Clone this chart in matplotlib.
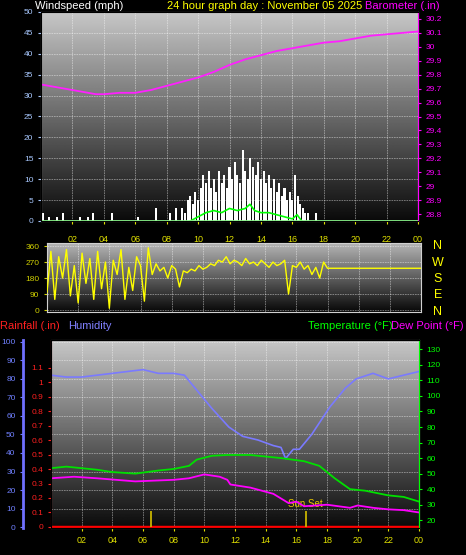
import numpy as np
import matplotlib
matplotlib.use("Agg")
import matplotlib.pyplot as plt

plt.rcParams['font.family'] = ['Liberation Sans', 'DejaVu Sans']

# ---------------- data ----------------
baro_hours = [0, 1, 2, 3, 3.5, 4, 5, 6, 7, 8, 9, 10, 11, 12, 13, 14, 15, 16, 17, 18, 19, 20, 21, 22, 23, 24]
baro_vals = [29.73, 29.71, 29.69, 29.67, 29.66, 29.66, 29.67, 29.67, 29.69, 29.72, 29.75, 29.78, 29.82, 29.87, 29.91, 29.94, 29.97, 29.99, 30.01, 30.03, 30.04, 30.06, 30.08, 30.09, 30.10, 30.11]

gust_hours = [0.1, 0.5, 1.0, 1.4, 2.5, 3.0, 3.3, 4.5, 6.2, 7.3, 8.2, 8.6] + \
             [9 + i / 6 for i in range(48)] + [17.0, 17.5]
gust_vals = [2, 1, 1, 2, 1, 1, 2, 2, 1, 3, 2, 3] + \
            [3, 2, 5, 6, 4, 7, 5, 8, 11, 9, 12, 8, 10, 7, 12, 9, 11, 8,
             13, 10, 14, 11, 9, 17, 12, 10, 15, 13, 11, 14, 10, 12, 9, 11, 8, 10,
             7, 9, 6, 8, 5, 7, 5, 11, 6, 4, 3, 2] + [2, 2]

avg_hours = [9.5, 10, 10.5, 11, 11.5, 12, 12.5, 13, 13.3, 13.6, 14, 14.5, 15, 15.5, 16, 16.3, 16.6]
avg_vals = [0, 1, 2, 2.5, 2, 3, 2.5, 3, 4, 2.5, 2, 2, 1.5, 1, 0.5, 1.5, 0]

dir_vals = [100, 330, 60, 300, 180, 340, 80, 250, 40, 320, 150, 290, 60, 330, 120, 270,
            10, 280, 200, 340, 60, 240, 110, 300,
            250, 50, 350, 200, 260, 220, 240, 180, 250, 230, 130, 220,
            210, 230, 220, 250, 230, 240, 260, 250, 280, 270, 300, 260, 280, 270, 250, 290,
            260, 270, 250, 280, 260, 240, 270, 250, 260, 280, 90, 250, 240, 270, 230, 250,
            200, 240, 180, 270, 235, 235]
dir_hours = [i * 0.25 for i in range(72)] + [18, 24]

hum_hours = [0, 1, 2, 3, 4, 5, 6, 7, 8, 8.7, 9.5, 10.5, 11.6, 12.5, 13.5, 14.5, 15, 15.3, 15.8, 16.2, 17, 18.2, 19.2, 19.9, 21, 22, 23, 24]
hum_vals = [82, 81, 81, 82, 83, 84, 85, 83, 83, 82, 74, 64, 54, 49, 47, 44, 43, 37, 42, 42, 50, 65, 75, 80, 83, 80, 82, 84]

temp_hours = [0, 1, 2, 3, 4, 5.5, 7, 8, 9, 9.5, 10.5, 11.5, 13, 14, 15, 16.5, 17.5, 18.5, 19.5, 20.5, 22, 23, 24]
temp_vals = [53.5, 54.5, 53.5, 52.5, 51, 50, 52, 53, 55, 59, 61.5, 62, 62, 61, 60, 58, 55, 47, 40, 39, 36, 35, 32]

dew_hours = [0, 1.5, 3, 5.5, 8, 9, 10, 11, 11.5, 11.7, 13, 14.5, 15.5, 16, 16.5, 18, 19.5, 20, 21, 22, 23, 24]
dew_vals = [47, 48, 47, 45, 46, 47, 49.5, 48, 46, 43, 41, 37, 31, 32, 29, 30, 28, 29.5, 28, 27, 26.5, 25]

sun_hours = [6.55, 16.6]

xticks = list(range(2, 25, 2))
xticklabels = ["%02d" % (h % 24) for h in xticks]

# ---------------- figure ----------------
W, H = 466, 555
fig = plt.figure(figsize=(W / 100, H / 100), dpi=100, facecolor="black")

def box(x0, y0, x1, y1):
    return [x0 / W, 1 - y1 / H, (x1 - x0) / W, (y1 - y0) / H]

def gradient(ax, top=0.78, bottom=0.04):
    g = np.linspace(bottom, top, 256).reshape(-1, 1)
    ax.imshow(g, aspect="auto", cmap="gray", vmin=0, vmax=1, origin="lower",
              extent=[0, 1, 0, 1], transform=ax.transAxes, zorder=0)

def style(ax):
    ax.set_facecolor("black")
    ax.set_xlim(0, 24)
    ax.set_xticks(xticks)
    ax.set_xticklabels(xticklabels)
    ax.tick_params(axis="x", colors="#e0e000", labelsize=6.5, length=2)
    ax.grid(True, color="white", alpha=0.45, lw=0.6, ls=(0, (2, 1)))
    for s in ax.spines.values():
        s.set_color("#d0d0d0")

fs_title = 8
fs_tick = 6

# ---- Panel 1: wind speed + barometer
ax1 = fig.add_axes(box(41, 12, 418, 221))
gradient(ax1)
style(ax1)
ax1.set_ylim(0, 50)
ax1.set_yticks(range(0, 51, 5))
ax1.tick_params(axis="y", colors="#a8c8ff", labelsize=fs_tick, length=2)
ax1.bar(gust_hours, gust_vals, width=0.13, color="white", zorder=3)
ax1.plot(avg_hours, avg_vals, color="#00ff00", lw=1.2, zorder=4)
ax1.axhline(0, color="#90ff90", lw=2, zorder=5)
ax1b = ax1.twinx()
ax1b.set_ylim(28.75, 30.25)
bt = np.round(np.arange(28.8, 30.21, 0.1), 1)
ax1b.set_yticks(bt)
ax1b.set_yticklabels(["%g" % v for v in bt])
ax1b.tick_params(axis="y", colors="#ff00ff", labelsize=fs_tick, length=2)
ax1b.spines["right"].set_color("#ff00ff")
ax1b.plot(baro_hours, baro_vals, color="#ff20ff", lw=1.3)
ax1.tick_params(axis="x", pad=8)

fig.text(35 / W, 1 - 6 / H, "Windspeed (mph)", color="white", fontsize=fs_title, va="center")
fig.text(265 / W, 1 - 6 / H, "24 hour graph day : November 05 2025", color="#ffff00", fontsize=fs_title, va="center", ha="center")
fig.text(440 / W, 1 - 6 / H, "Barometer (.in)", color="#ff00ff", fontsize=fs_title, va="center", ha="right")

# ---- Panel 2: wind direction
ax2 = fig.add_axes(box(47, 243, 421, 312))
gradient(ax2, top=0.72, bottom=0.03)
style(ax2)
ax2.tick_params(axis="x", labelbottom=False, length=0)
ax2.set_ylim(-11, 377)
ax2.set_yticks([0, 90, 180, 270, 360])
ax2.tick_params(axis="y", colors="#d0d000", labelsize=fs_tick, length=2)
ax2.plot(dir_hours, dir_vals, color="#ffff00", lw=1.0, zorder=3)
for lab, y in zip("NWSEN", [246, 263, 279, 295, 312]):
    fig.text(438 / W, 1 - y / H, lab, color="#ffff00", fontsize=9, ha="center", va="center")

# ---- Panel 3: humidity / rain / temperature / dew
ax3 = fig.add_axes(box(51, 340, 419, 528))
gradient(ax3)
style(ax3)
ax3.set_ylim(-0.5, 101)
ax3.set_yticks(range(0, 101, 10))
ax3.spines["left"].set_position(("outward", 20))
ax3.spines["left"].set_color("#7070ff")
ax3.spines["left"].set_linewidth(2)
ax3.tick_params(axis="y", colors="#7080ff", labelsize=fs_tick, length=2)
ax3.plot(hum_hours, hum_vals, color="#7a7aff", lw=1.2, zorder=3)

ax3r = ax3.twinx()
ax3r.set_ylim(-0.007, 1.29)
ax3r.yaxis.set_ticks_position("left")
ax3r.spines["left"].set_visible(True)
ax3r.spines["left"].set_color("#ff3030")
ax3r.spines["left"].set_linestyle((0, (1, 1)))
ax3r.spines["right"].set_visible(False)
rt = np.round(np.arange(0, 1.11, 0.1), 1)
ax3r.set_yticks(rt)
ax3r.set_yticklabels(["%g" % v for v in rt])
ax3r.tick_params(axis="y", colors="#ff2020", labelsize=fs_tick, length=2)
ax3r.axhline(0, color="#ff0000", lw=2.5)
ax3r.vlines(sun_hours, 0, 0.11, color="#c8b400", lw=1.3)
ax3r.text(sun_hours[1], 0.125, "Sun Set", color="#e8c800", fontsize=7, ha="center", va="bottom")

ax3t = ax3.twinx()
ax3t.set_ylim(15, 136)
ax3t.set_yticks(range(20, 131, 10))
ax3t.tick_params(axis="y", colors="#00ff00", labelsize=fs_tick, length=2)
ax3t.spines["right"].set_color("#00ff00")
ax3t.plot(temp_hours, temp_vals, color="#00e000", lw=1.3)
ax3t.plot(dew_hours, dew_vals, color="#ff00ff", lw=1.3)

fig.text(0 / W, 1 - 326 / H, "Rainfall (.in)", color="#ff2020", fontsize=fs_title, va="center")
fig.text(68 / W, 1 - 326 / H, "Humidity", color="#8080ff", fontsize=fs_title, va="center")
fig.text(393 / W, 1 - 326 / H, "Temperature (°F)", color="#00ff00", fontsize=fs_title, va="center", ha="right")
fig.text(464 / W, 1 - 326 / H, "Dew Point (°F)", color="#ff00ff", fontsize=fs_title, va="center", ha="right")

fig.savefig("out.png", dpi=100, facecolor="black")
